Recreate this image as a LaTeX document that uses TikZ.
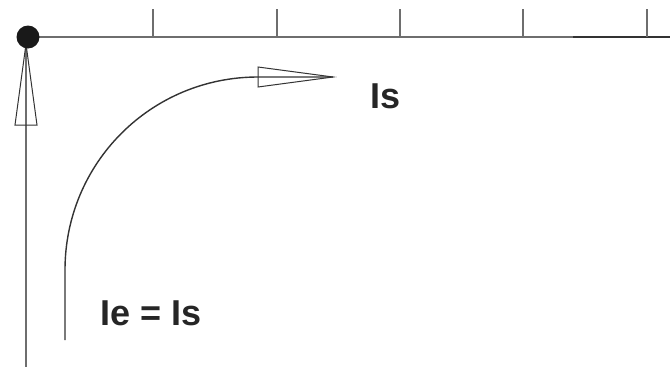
\documentclass[tikz,border=0pt]{standalone}
\usepackage{fontspec}
\setmainfont{Liberation Sans}
\definecolor{axisgrey}{HTML}{6E6E6E}
\definecolor{linedark}{HTML}{333333}
\begin{document}
\begin{tikzpicture}[x=1pt,y=-1pt,
  axisline/.style={draw=axisgrey,line width=1.8pt},
  tickline/.style={draw=axisgrey,line width=1.3pt},
  curveline/.style={draw=linedark,line width=1.4pt},
  headtri/.style={draw=linedark,line width=1pt,line join=miter},
  lbl/.style={font=\fontsize{36}{38}\selectfont\bfseries,text=black!85,inner sep=0pt}]
\useasboundingbox (0,0) rectangle (670,367);
\coordinate (O) at (28,37);
\coordinate (E) at (670,37);
\coordinate (B) at (26,367);
% axis
\draw[axisline] (O) -- (E);
\draw[draw=linedark,line width=1.8pt] (573,37) -- (E);
\foreach \x in {153,277,400,523,647}{\draw[tickline] (\x,37) -- (\x,9);}
% vertical arrow
\coordinate (Vt) at (26,44);
\draw[axisline] (B) -- (Vt);
\draw[headtri] (15,125) -- (37,125) -- (Vt) -- cycle;
\fill[black!90] (O) circle (11.5);
% curved arrow
\coordinate (C0) at (65,340);
\coordinate (C1) at (65,270);
\coordinate (C2) at (258,77);
\coordinate (Ct) at (333,77);
\draw[curveline] (C0) -- (C1) .. controls (65,163) and (151,77) .. (C2) -- (Ct);
\draw[headtri] (258,67) -- (258,87) -- (Ct) -- cycle;
% labels
\node[lbl] (ls) at (386,96) {Is};
\node[lbl] (lels) at (151,313) {Ie = Is};
\end{tikzpicture}
\end{document}
